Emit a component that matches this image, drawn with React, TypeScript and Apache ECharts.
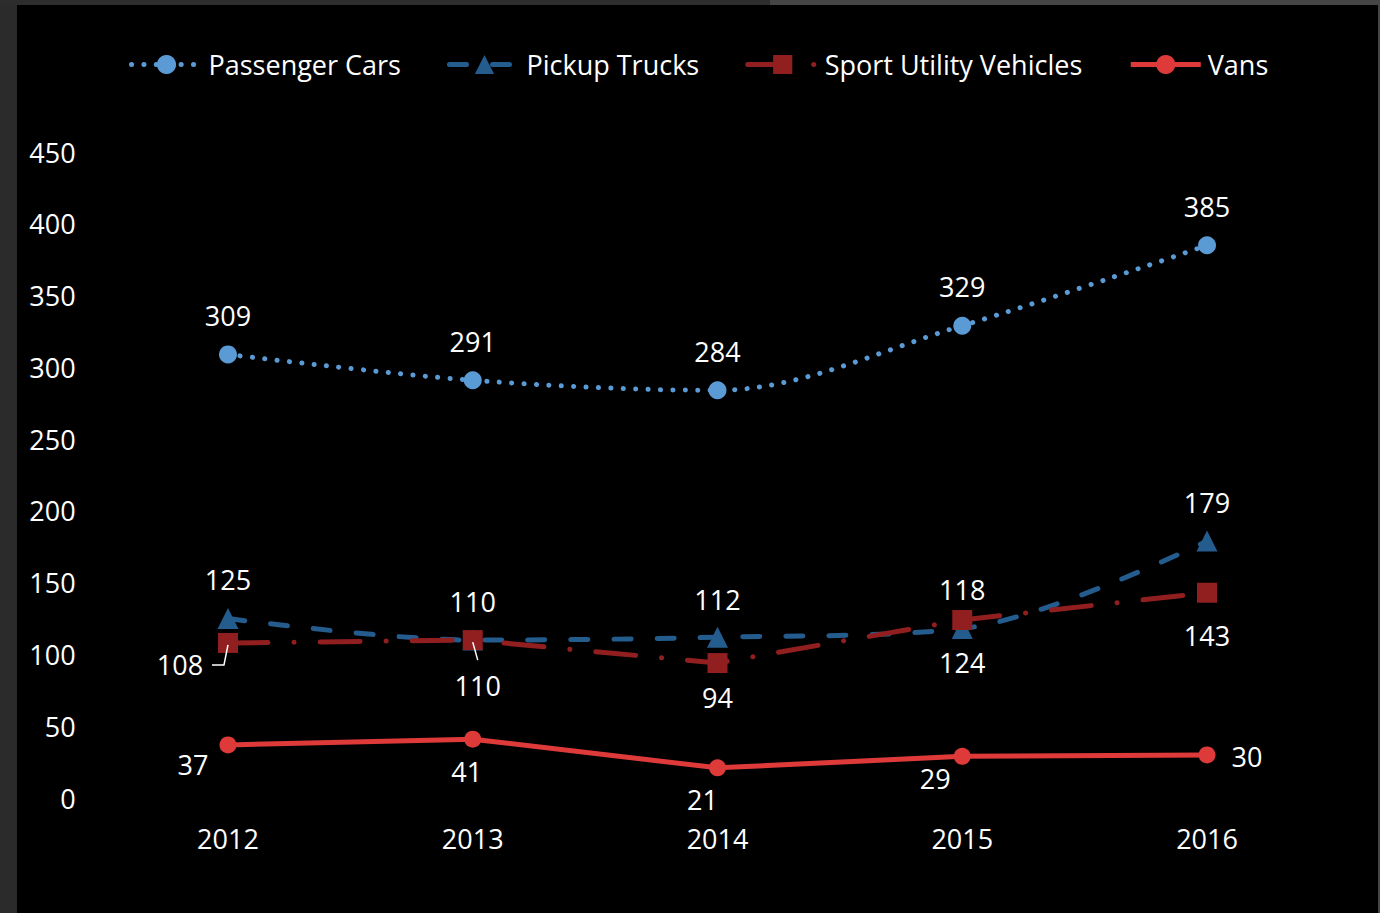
import React, { useEffect, useRef } from "react";
import * as echarts from "echarts";

const years = ["2012", "2013", "2014", "2015", "2016"];
const passengerCars = [309, 291, 284, 329, 385];
const pickupTrucks = [125, 110, 112, 118, 179];
const sportUtility = [108, 110, 94, 124, 143];
const vans = [37, 41, 21, 29, 30];
const yMin = 0;
const yMax = 450;
const yStep = 50;

// label placement (style only)
const passengerOffsets = [[0, -39], [0, -39], [0, -39], [0, -39], [0, -39]];
const pickupOffsets = [[0, -39], [0, -39], [0, -38], [0, -39], [0, -39]];
const suvOffsets = [[-48, 22], [5, 45], [0, 34], [0, 43], [0, 43]];
const vanOffsets = [[-35, 20], [-6, 32], [-15, 32], [-27, 22], [40, 2]];
// leader lines (relative to the data point), style only
const suvLeaders: { index: number; pts: number[][] }[] = [
  { index: 0, pts: [[-16, 22], [-4, 22], [0, 2]] },
  { index: 1, pts: [[0, 2], [5, 20]] },
];

const FONT = "Open Sans";
const FS = 27;

function build(values: number[], offsets: number[][]) {
  return values.map((v, i) => ({ value: v, label: { offset: offsets[i] } }));
}

const frame = [
  { id: "f1", type: "rect", left: 0, top: 0, shape: { width: 17, height: 913 }, style: { fill: "#2b2b2b" }, z: -10 },
  { id: "f2", type: "rect", left: 0, top: 0, shape: { width: 770, height: 5 }, style: { fill: "#2d2d2d" }, z: -10 },
  { id: "f3", type: "rect", left: 770, top: 0, shape: { width: 610, height: 5 }, style: { fill: "#454545" }, z: -10 },
  { id: "f4", type: "rect", left: 1378, top: 0, shape: { width: 2, height: 913 }, style: { fill: "#454545" }, z: -10 },
];

export default function App() {
  const ref = useRef<HTMLDivElement>(null);
  useEffect(() => {
    if (!ref.current) return;
    const chart = echarts.init(ref.current, null, { renderer: "svg" });
    const labelBase = {
      show: true,
      position: "inside" as const,
      color: "#ffffff",
      fontFamily: FONT,
      fontSize: FS,
    };
    chart.setOption({
      animation: false,
      backgroundColor: "#000000",
      textStyle: { fontFamily: FONT },
      graphic: frame,
      legend: {
        left: 124,
        top: 46,
        itemWidth: 70,
        itemHeight: 24,
        itemGap: 46,
        lineStyle: { width: 5 },
        textStyle: { color: "#ffffff", fontSize: FS, fontFamily: FONT, padding: [0, 0, 0, 2] },
        data: ["Passenger Cars", "Pickup Trucks", "Sport Utility Vehicles", "Vans"],
      },
      grid: { left: 105.6, right: 50.6, top: 152, bottom: 115, containLabel: false },
      xAxis: {
        type: "category",
        data: years,
        boundaryGap: true,
        axisLine: { show: false },
        axisTick: { show: false },
        axisLabel: { color: "#ffffff", fontSize: FS, fontFamily: FONT, margin: 27 },
      },
      yAxis: {
        type: "value",
        min: yMin,
        max: yMax,
        interval: yStep,
        axisLine: { show: false },
        axisTick: { show: false },
        splitLine: { show: false },
        axisLabel: { color: "#ffffff", fontSize: FS, fontFamily: FONT, margin: 30 },
      },
      series: [
        {
          name: "Passenger Cars",
          type: "line",
          data: build(passengerCars, passengerOffsets),
          smooth: 0.33,
          symbol: "circle",
          symbolSize: 18,
          itemStyle: { color: "#5B9BD5" },
          lineStyle: { color: "#5B9BD5", width: 5, type: [0.1, 12.3], cap: "round" },
          label: labelBase,
          z: 4,
        },
        {
          name: "Pickup Trucks",
          type: "line",
          data: build(pickupTrucks, pickupOffsets),
          smooth: 0.33,
          symbol: "triangle",
          symbolSize: 21,
          itemStyle: { color: "#245C8E" },
          lineStyle: { color: "#245C8E", width: 5, type: [17, 26], cap: "round" },
          label: labelBase,
          z: 2,
        },
        {
          name: "Sport Utility Vehicles",
          type: "line",
          data: build(sportUtility, suvOffsets),
          symbol: "rect",
          symbolSize: 20,
          itemStyle: { color: "#921F1F" },
          lineStyle: { color: "#921F1F", width: 5, type: [40, 26, 0.1, 26], cap: "round" },
          label: labelBase,
          z: 3,
        },
        {
          name: "Vans",
          type: "line",
          data: build(vans, vanOffsets),
          symbol: "circle",
          symbolSize: 17,
          itemStyle: { color: "#DF3A3A" },
          lineStyle: { color: "#DF3A3A", width: 5 },
          label: labelBase,
          z: 3,
        },
      ],
    });
    // leader lines placed from the library's own scale
    const leaders = suvLeaders.map((l, k) => {
      const p = chart.convertToPixel({ seriesIndex: 2 }, [l.index, sportUtility[l.index]]) as number[];
      return {
        id: "lead" + k,
        type: "polyline",
        shape: { points: l.pts.map((d) => [p[0] + d[0], p[1] + d[1]]) },
        style: { stroke: "#ffffff", lineWidth: 1.5, fill: null },
        z: 10,
      };
    });
    chart.setOption({ graphic: [...frame, ...leaders] });
    return () => chart.dispose();
  }, []);
  return (
    <div
      ref={ref}
      style={{ position: "fixed", left: 0, top: 0, width: 1380, height: 913 }}
    />
  );
}
